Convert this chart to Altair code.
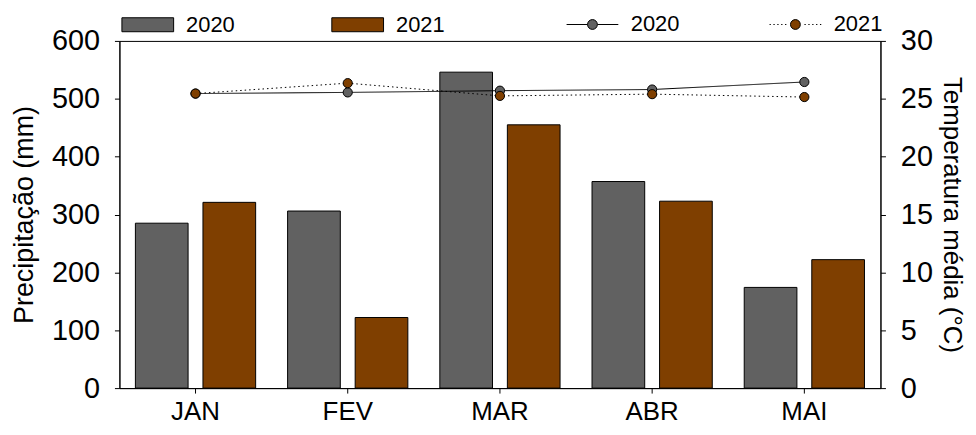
import altair as alt
import pandas as pd

months = ["JAN", "FEV", "MAR", "ABR", "MAI"]
years = ["2020", "2021"]
precip_2020 = [285, 306, 546, 357, 174]
precip_2021 = [321, 122, 455, 323, 222]
temp_2020 = [25.45, 25.55, 25.7, 25.8, 26.45]
temp_2021 = [25.45, 26.35, 25.25, 25.4, 25.15]
colors = ["#616161", "#7f3f00"]

bars_df = pd.DataFrame({
    "Mes": months * 2,
    "Ano": [years[0]] * len(months) + [years[1]] * len(months),
    "Precip": precip_2020 + precip_2021,
})
temp_df = pd.DataFrame({
    "Mes": months * 2,
    "Linha": [years[0]] * len(months) + [years[1]] * len(months),
    "Temp": temp_2020 + temp_2021,
})

FONT = "Liberation Sans"

# legend symbol shapes (unit box -1..1)
rect_path = "M-1,-0.27H1V0.27H-1Z"
circ = "M-0.19,0A0.19 0.19 0 1 0 0.19,0A0.19 0.19 0 1 0 -0.19,0Z"
solid_path = "M-1,0H-0.19M0.19,0H1" + circ
dots_left = "".join(f"M{x:.2f},0h0.05" for x in [-1.0, -0.85, -0.7, -0.55, -0.4])
dots_right = "".join(f"M{x:.2f},0h0.05" for x in [0.35, 0.5, 0.65, 0.8, 0.95])
dotted_path = dots_left + dots_right + circ
line_paths = [solid_path, dotted_path]

x_enc = alt.X(
    "Mes:N", sort=months,
    scale=alt.Scale(paddingInner=0.21, paddingOuter=0.105),
    axis=alt.Axis(title=None, labelAngle=0, labelFontSize=26, labelPadding=6,
                  tickSize=5, labelFont=FONT, labelColor="black"),
)

bars = alt.Chart(bars_df).mark_bar(stroke="black", strokeWidth=1).encode(
    x=x_enc,
    xOffset=alt.XOffset("Ano:N", sort=years, scale=alt.Scale(paddingInner=0.22, paddingOuter=0)),
    y=alt.Y("Precip:Q", scale=alt.Scale(domain=[0, 600], nice=False),
            axis=alt.Axis(title="Precipitação (mm)", orient="left", values=[0, 100, 200, 300, 400, 500, 600],
                          labelFontSize=29, titleFontSize=27, titleFontWeight="normal",
                          labelPadding=15, titlePadding=13, grid=False, tickSize=5,
                          labelFont=FONT, titleFont=FONT, labelColor="black", titleColor="black")),
    color=alt.Color("Ano:N", sort=years, scale=alt.Scale(range=colors),
                    legend=alt.Legend(title=None, orient="none", legendX=2, legendY=-43,
                                      direction="horizontal", symbolType=rect_path, symbolSize=2704,
                                      symbolStrokeColor="black", symbolStrokeWidth=1,
                                      labelFontSize=22, labelFont=FONT, labelColor="black",
                                      columnPadding=95, labelOffset=12, padding=0)),
)

y_temp = alt.Y("Temp:Q", scale=alt.Scale(domain=[0, 30], nice=False),
               axis=alt.Axis(title="Temperatura média (°C)", orient="right", values=[0, 5, 10, 15, 20, 25, 30],
                             labelFontSize=29, titleFontSize=26, titleFontWeight="normal",
                             labelPadding=15, titlePadding=6, grid=False, tickSize=5,
                             labelFont=FONT, titleFont=FONT, labelColor="black", titleColor="black"))

lines = alt.Chart(temp_df).mark_line(color="black", strokeWidth=1).encode(
    x=alt.X("Mes:N", sort=months),
    y=y_temp,
    strokeDash=alt.StrokeDash("Linha:N", sort=years,
                              scale=alt.Scale(range=[[1, 0], [1.5, 3]]), legend=None),
)

points = alt.Chart(temp_df).mark_point(filled=True, size=85, stroke="black", strokeWidth=1, opacity=1).encode(
    x=alt.X("Mes:N", sort=months),
    y=alt.Y("Temp:Q"),
    fill=alt.Fill("Linha:N", sort=years, scale=alt.Scale(range=colors), legend=None),
)


def legend_layer(i, legend_x):
    props = dict(title=None, orient="none", legendX=legend_x, legendY=-43, direction="horizontal",
                 symbolSize=2704, symbolStrokeWidth=1, symbolOpacity=1,
                 labelFontSize=22, labelFont=FONT, labelColor="black", labelOffset=12, padding=0)
    return alt.Chart(temp_df).transform_filter(alt.datum.Linha == years[i]).mark_point(
        filled=False, opacity=0, size=2704, fill=colors[i], stroke="black", strokeWidth=1
    ).encode(
        x=alt.X("Mes:N", sort=months),
        y=alt.Y("Temp:Q"),
        shape=alt.Shape("Linha:N", scale=alt.Scale(range=[line_paths[i]]), legend=alt.Legend(**props)),
    )


temp_layer = alt.layer(lines, points, legend_layer(0, 449), legend_layer(1, 653)).resolve_scale(
    shape="independent").resolve_legend(shape="independent")

chart = alt.layer(bars, temp_layer).resolve_scale(y="independent").properties(
    width=765, height=349,
    autosize=alt.AutoSizeParams(type="none"),
    padding={"left": 112, "top": 32, "right": 88, "bottom": 36},
).configure_view(stroke="black", strokeWidth=1).configure_axis(
    domainColor="black", tickColor="black", domainWidth=1, tickWidth=1
)

chart.save("out.html", embed_options={"renderer": "svg", "actions": False})
